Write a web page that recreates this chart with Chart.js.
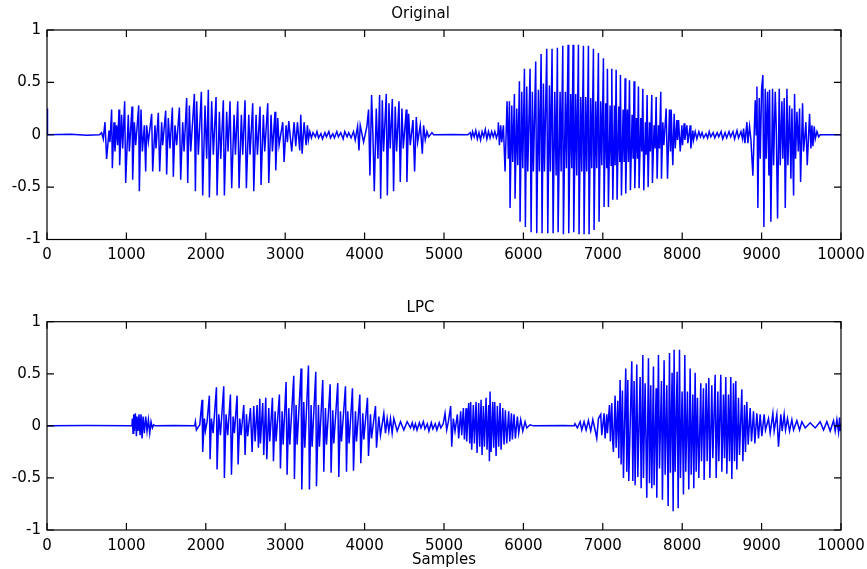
<!DOCTYPE html>
<html>
<head>
<meta charset="utf-8">
<script src="https://cdn.jsdelivr.net/npm/chart.js@4"></script>
<style>
  html, body { margin: 0; padding: 0; background: #fff; }
  #wrap { position: relative; width: 867px; height: 569px; }
  #wrap canvas { position: absolute; left: 0; }
  #origCanvas { top: 0; }
  #lpcCanvas { top: 285px; }
</style>
</head>
<body>
<div id="wrap">
  <canvas id="origCanvas" width="867" height="285"></canvas>
  <canvas id="lpcCanvas" width="867" height="284"></canvas>
</div>
<script>
// axis ticks shared by both panels
const xTickValues = [0, 1000, 2000, 3000, 4000, 5000, 6000, 7000, 8000, 9000, 10000];
const yTickValues = [-1, -0.5, 0, 0.5, 1];

// ---- original speech signal, [sample, amplitude] ----
const origLead = [[0, 0.25], [6, 0], [300, 0.005], [500, -0.005], [660, 0]];
const origSyll1 = [
  [667, 0], [688, 0.02], [709, -0.04], [730, 0.12], [751, -0.23], [781, 0.04], [793, -0.07],
  [814, 0.24], [823, -0.32], [844, 0.12], [856, -0.16], [877, 0.09], [890, -0.1], [907, 0.24],
  [915, -0.29], [940, 0.19], [953, -0.13], [978, 0.32], [991, -0.46], [1024, 0.19], [1037, -0.16],
  [1071, 0.27], [1079, -0.43], [1100, 0.12], [1117, -0.1], [1155, 0.28], [1163, -0.54],
  [1184, 0.24], [1201, -0.16], [1226, 0.09], [1243, -0.35], [1255, 0.09], [1276, -0.07],
  [1318, 0.2], [1331, -0.35], [1360, 0.09], [1373, -0.13], [1402, 0.21], [1419, -0.35],
  [1444, 0.12], [1457, -0.1], [1495, 0.23], [1507, -0.38], [1528, 0.16], [1549, -0.13],
  [1579, 0.26], [1591, -0.4], [1612, 0.09], [1633, -0.1], [1667, 0.26], [1684, -0.43],
  [1709, 0.12], [1726, -0.16], [1759, 0.35], [1772, -0.46], [1793, 0.28], [1810, -0.16],
  [1856, 0.39], [1869, -0.54], [1885, 0.32], [1906, -0.19], [1944, 0.41], [1961, -0.58],
  [1990, 0.28], [2011, -0.23], [2032, 0.43], [2045, -0.6], [2074, 0.32], [2095, -0.19],
  [2129, 0.36], [2142, -0.58], [2171, 0.22], [2188, -0.23], [2221, 0.33], [2234, -0.58],
  [2263, 0.22], [2280, -0.16], [2305, 0.32], [2326, -0.51], [2356, 0.19], [2373, -0.19],
  [2402, 0.32], [2419, -0.51], [2448, 0.19], [2465, -0.19], [2494, 0.33], [2511, -0.51],
  [2541, 0.19], [2557, -0.19], [2591, 0.3], [2604, -0.54], [2633, 0.19], [2650, -0.19],
  [2683, 0.27], [2696, -0.48], [2725, 0.19], [2742, -0.16], [2780, 0.3], [2793, -0.46],
  [2822, 0.19], [2839, -0.16], [2872, 0.22], [2881, -0.34], [2906, 0.16], [2923, -0.1],
  [2969, 0.12], [2986, -0.26], [3011, 0.09], [3028, -0.07], [3045, 0.13], [3082, -0.16],
  [3112, 0.12], [3133, -0.11], [3154, 0.12], [3183, -0.15], [3196, 0.19], [3213, -0.18],
  [3238, 0.12], [3263, -0.1], [3280, 0.09], [3292, -0.05]
];
const origGap1 = [
  [3310, 0.03], [3330, -0.03], [3350, 0.02], [3380, -0.02], [3400, 0.03], [3420, -0.03],
  [3450, 0.01], [3470, -0.04], [3500, 0.02], [3520, -0.02], [3550, 0.03], [3570, -0.03],
  [3600, 0.01], [3620, -0.03], [3650, 0.03], [3670, -0.02], [3700, 0.02], [3730, -0.04],
  [3750, 0.03], [3780, -0.02], [3800, 0.02], [3830, -0.03], [3860, 0.03]
];
const origSyll2 = [
  [3882, -0.05], [3912, 0.08], [3929, -0.15], [3945, 0.09], [3987, -0.07], [4029, 0.08],
  [4050, 0.24], [4067, -0.39], [4088, 0.38], [4105, 0], [4122, -0.54], [4147, 0.25],
  [4168, -0.23], [4189, 0.38], [4202, -0.61], [4223, 0.33], [4239, -0.16], [4273, 0.39],
  [4286, -0.58], [4307, 0.3], [4323, -0.13], [4349, 0.34], [4365, -0.54], [4386, 0.27],
  [4403, -0.16], [4433, 0.32], [4449, -0.45], [4470, 0.25], [4487, -0.13], [4525, 0.24],
  [4533, -0.45], [4554, 0.2], [4575, -0.1], [4609, 0.14], [4630, -0.35], [4651, 0.17],
  [4668, -0.07], [4701, 0.09], [4727, -0.18], [4743, 0.09], [4764, -0.05], [4785, 0.03],
  [4806, -0.02], [4848, 0.02], [4869, 0]
];
const origGap2 = [
  [5100, 0.003], [5300, 0], [5330, 0.02], [5345, -0.03], [5360, 0.03], [5380, -0.02],
  [5400, 0.04], [5420, -0.04], [5440, 0.02], [5460, -0.05], [5480, 0.03], [5500, -0.02],
  [5520, 0.05], [5540, -0.04], [5560, 0.03], [5580, -0.03], [5600, 0.03], [5620, -0.02],
  [5640, 0.03], [5660, -0.03], [5680, 0.02]
];
const origSyll3 = [
  [5685, 0.12], [5698, -0.1], [5714, 0.09], [5727, -0.07], [5748, 0.09], [5769, -0.35],
  [5794, 0.32], [5811, -0.23], [5824, 0.32], [5832, -0.7], [5853, 0.28], [5866, -0.26],
  [5887, 0.39], [5895, -0.61], [5916, 0.25], [5929, -0.29], [5950, 0.51], [5958, -0.83],
  [5979, 0.41], [5992, -0.32], [6013, 0.63], [6025, -0.88], [6042, 0.46], [6055, -0.35],
  [6084, 0.63], [6097, -0.93], [6113, 0.41], [6126, -0.35], [6155, 0.7], [6168, -0.94],
  [6189, 0.43], [6202, -0.35], [6223, 0.77], [6235, -0.94], [6252, 0.49], [6265, -0.35],
  [6294, 0.82], [6307, -0.94], [6328, 0.47], [6340, -0.35], [6361, 0.82], [6374, -0.94],
  [6395, 0.41], [6412, -0.39], [6428, 0.83], [6437, -0.93], [6462, 0.41], [6475, -0.35],
  [6496, 0.85], [6504, -0.95], [6529, 0.41], [6542, -0.32], [6563, 0.86], [6571, -0.94],
  [6596, 0.39], [6609, -0.32], [6626, 0.86], [6634, -0.93], [6659, 0.39], [6672, -0.39],
  [6693, 0.86], [6701, -0.95], [6722, 0.36], [6735, -0.35], [6756, 0.85], [6764, -0.95],
  [6785, 0.36], [6798, -0.35], [6819, 0.85], [6827, -0.95], [6848, 0.35], [6861, -0.32],
  [6882, 0.82], [6890, -0.91], [6911, 0.32], [6924, -0.32], [6945, 0.78], [6953, -0.83],
  [6974, 0.32], [6987, -0.29], [7008, 0.73], [7016, -0.69], [7037, 0.3], [7050, -0.32],
  [7058, 0.63], [7071, -0.69], [7092, 0.28], [7105, -0.29], [7113, 0.63], [7126, -0.62],
  [7147, 0.28], [7155, -0.29], [7168, 0.62], [7180, -0.62], [7201, 0.27], [7214, -0.26],
  [7222, 0.57], [7235, -0.58], [7256, 0.24], [7268, -0.26], [7281, 0.54], [7289, -0.56],
  [7310, 0.24], [7323, -0.26], [7336, 0.52], [7348, -0.53], [7369, 0.19], [7382, -0.23],
  [7394, 0.51], [7403, -0.51], [7424, 0.16], [7436, -0.23], [7449, 0.46], [7457, -0.51],
  [7478, 0.16], [7491, -0.16], [7504, 0.44], [7516, -0.53], [7537, 0.12], [7546, -0.19],
  [7558, 0.38], [7571, -0.5], [7588, 0.12], [7600, -0.16], [7617, 0.38], [7625, -0.46],
  [7646, 0.09], [7659, -0.13], [7672, 0.36], [7684, -0.42], [7701, 0.09], [7714, -0.13],
  [7730, 0.41], [7739, -0.42], [7756, 0.12], [7769, -0.1], [7798, 0.25], [7815, -0.42],
  [7840, 0.24], [7853, -0.16], [7861, 0.24], [7882, -0.29], [7899, 0.2], [7912, -0.13],
  [7933, 0.14], [7941, -0.05], [7954, 0.14], [7975, -0.16], [7996, 0.09], [8004, -0.1],
  [8025, 0.11], [8034, -0.05], [8059, 0.09], [8071, -0.08], [8101, 0.09], [8109, -0.13],
  [8134, 0.04], [8143, -0.05], [8164, 0.03], [8185, -0.04]
];
const origGap3 = [
  [8210, 0.03], [8230, -0.02], [8250, 0.02], [8270, -0.03], [8300, 0.01], [8320, -0.03],
  [8340, 0.03], [8360, -0.02], [8390, 0.02], [8410, -0.03], [8440, 0.02], [8460, -0.02],
  [8490, 0.03], [8510, -0.04], [8540, 0.02], [8560, -0.03], [8590, 0.03], [8610, -0.02],
  [8640, 0.03], [8660, -0.04], [8690, 0.04], [8710, -0.03], [8740, 0.03], [8760, -0.04]
];
const origSyll4 = [
  [8773, 0.06], [8790, -0.08], [8815, 0.12], [8827, -0.08], [8848, 0.08], [8865, -0.04],
  [8890, -0.39], [8920, 0.33], [8932, 0], [8941, 0.46], [8953, -0.7], [8970, 0.35],
  [8983, -0.23], [9000, 0.44], [9016, 0.57], [9029, -0.88], [9046, 0.44], [9058, -0.23],
  [9075, 0.41], [9092, -0.39], [9100, 0.43], [9117, -0.83], [9138, 0.44], [9151, -0.29],
  [9172, 0.41], [9184, 0.09], [9201, -0.8], [9222, 0.44], [9235, -0.29], [9256, 0.32],
  [9268, -0.23], [9285, 0.35], [9298, -0.7], [9319, 0.44], [9331, -0.29], [9352, 0.28],
  [9369, -0.42], [9382, 0.25], [9403, -0.58], [9415, 0.39], [9428, -0.23], [9445, 0.22],
  [9462, -0.16], [9478, 0.25], [9491, -0.45], [9516, 0.3], [9529, -0.16], [9558, 0.12],
  [9575, -0.29], [9604, 0.2], [9621, -0.13], [9634, 0.09], [9646, -0.11], [9663, 0.08],
  [9676, -0.04], [9697, 0.03], [9718, -0.02], [9739, 0]
];
const origTail = [[10000, 0]];

// ---- LPC resynthesis, [sample, amplitude] ----
const lpcLead = [[0, 0], [500, 0.003], [1070, 0]];
const lpcBurst = [
  [1075, 0.07], [1084, -0.07], [1092, 0.11], [1100, -0.05], [1113, 0.12], [1126, -0.1],
  [1134, 0.09], [1147, -0.05], [1159, 0.11], [1172, -0.09], [1184, 0.11], [1197, -0.12],
  [1210, 0.09], [1226, -0.07], [1243, 0.09], [1260, -0.05], [1277, 0.06], [1294, -0.07],
  [1310, 0.04], [1327, -0.02], [1344, 0.01], [1365, 0], [1600, 0.003], [1860, 0]
];
const lpcSyll1 = [
  [1869, 0.04], [1882, -0.04], [1898, -0.02], [1924, 0.01], [1953, 0.25], [1961, -0.25],
  [1982, 0.07], [1995, -0.05], [2016, 0.04], [2045, 0.29], [2054, -0.32], [2071, 0.07],
  [2092, -0.07], [2134, 0.37], [2142, -0.42], [2163, 0.11], [2184, -0.09], [2226, 0.38],
  [2234, -0.5], [2255, 0.11], [2276, -0.09], [2310, 0.3], [2323, -0.47], [2344, 0.09],
  [2360, -0.07], [2394, 0.29], [2407, -0.37], [2428, 0.07], [2444, -0.09], [2478, 0.2],
  [2495, -0.28], [2512, 0.11], [2528, -0.1], [2562, 0.17], [2583, -0.25], [2604, 0.19],
  [2621, -0.15], [2646, 0.2], [2663, -0.21], [2680, 0.26], [2688, -0.17], [2717, 0.22],
  [2730, -0.28], [2755, 0.27], [2768, -0.32], [2793, 0.17], [2806, -0.15], [2839, 0.27],
  [2852, -0.34], [2873, 0.14], [2885, -0.15], [2927, 0.3], [2940, -0.41], [2961, 0.14],
  [2974, -0.18], [3011, 0.42], [3024, -0.47], [3045, 0.17], [3058, -0.18], [3108, 0.48],
  [3116, -0.51], [3137, 0.2], [3150, -0.18], [3200, 0.55], [3209, -0.61], [3234, 0.23],
  [3247, -0.21], [3293, 0.58], [3305, -0.61], [3326, 0.2], [3339, -0.2], [3385, 0.52],
  [3394, -0.58], [3419, 0.2], [3431, -0.2], [3473, 0.44], [3486, -0.44], [3507, 0.17],
  [3520, -0.18], [3566, 0.4], [3578, -0.45], [3599, 0.15], [3612, -0.17], [3662, 0.41],
  [3675, -0.49], [3696, 0.14], [3709, -0.15], [3759, 0.38], [3772, -0.44], [3788, 0.14],
  [3805, -0.17], [3847, 0.36], [3860, -0.43], [3885, 0.14], [3898, -0.15], [3940, 0.3],
  [3952, -0.36], [3977, 0.12], [3990, -0.13], [4036, 0.27], [4049, -0.29], [4074, 0.11],
  [4087, -0.12], [4137, 0.19], [4150, -0.21], [4179, 0.09], [4200, -0.09], [4242, 0.12],
  [4263, -0.07], [4284, 0.07], [4305, -0.05], [4326, 0.07], [4347, -0.07], [4368, 0.07],
  [4410, -0.05], [4452, 0.04], [4494, -0.04], [4536, 0.04], [4578, -0.02]
];
const lpcGap1 = [
  [4600, 0.03], [4620, -0.03], [4640, 0.02], [4660, -0.04], [4690, 0.03], [4710, -0.02],
  [4740, 0.04], [4760, -0.03], [4790, 0.02], [4810, -0.05], [4840, 0.03], [4860, -0.03],
  [4890, 0.02], [4910, -0.04], [4940, 0.03], [4960, -0.02], [4990, 0.02]
];
const lpcSyll2 = [
  [5013, 0.12], [5034, -0.04], [5055, 0.04], [5084, 0.19], [5097, -0.2], [5118, 0.07],
  [5139, -0.05], [5168, 0.11], [5185, -0.12], [5210, 0.14], [5223, -0.09], [5244, 0.17],
  [5257, -0.13], [5278, 0.17], [5286, -0.15], [5311, 0.22], [5324, -0.17], [5336, 0.23],
  [5349, -0.23], [5370, 0.2], [5383, -0.17], [5404, 0.23], [5416, -0.26], [5437, 0.22],
  [5450, -0.2], [5467, 0.25], [5479, -0.28], [5496, 0.19], [5509, -0.2], [5530, 0.27],
  [5542, -0.23], [5563, 0.2], [5572, -0.34], [5580, 0.33], [5593, -0.25], [5614, 0.23],
  [5626, -0.21], [5639, 0.23], [5656, -0.29], [5672, 0.19], [5689, -0.2], [5706, 0.22],
  [5719, -0.23], [5740, 0.17], [5756, -0.18], [5773, 0.15], [5790, -0.17], [5815, 0.14],
  [5828, -0.15], [5849, 0.12], [5861, -0.13], [5882, 0.11], [5899, -0.12], [5924, 0.09],
  [5941, -0.07], [5966, 0.06], [5992, -0.05], [6021, 0.04], [6042, -0.02], [6084, 0.01],
  [6126, 0]
];
const lpcGap2 = [
  [6500, 0.003], [6640, 0], [6650, 0.02], [6680, -0.02], [6714, 0.04], [6735, -0.04],
  [6764, 0.04], [6790, -0.04], [6819, 0.05], [6848, -0.05], [6874, 0.06], [6903, -0.04],
  [6924, -0.12], [6945, 0.07]
];
const lpcSyll3 = [
  [6974, 0.11], [6987, -0.09], [7016, 0.12], [7029, -0.12], [7050, 0.11], [7058, -0.07],
  [7084, 0.2], [7096, -0.15], [7113, 0.22], [7126, -0.17], [7134, -0.25], [7155, 0.29],
  [7168, -0.21], [7189, 0.24], [7201, -0.31], [7218, 0.44], [7231, -0.37], [7247, 0.34],
  [7260, -0.5], [7289, 0.55], [7302, -0.44], [7315, 0.44], [7327, -0.53], [7365, 0.62],
  [7378, -0.53], [7394, 0.43], [7407, -0.57], [7428, 0.59], [7441, -0.49], [7470, 0.47],
  [7483, -0.6], [7504, 0.68], [7512, -0.5], [7533, 0.41], [7554, -0.69], [7575, 0.65],
  [7588, -0.55], [7604, 0.39], [7617, -0.6], [7638, 0.57], [7646, -0.57], [7672, 0.36],
  [7680, -0.69], [7701, 0.68], [7714, -0.41], [7739, 0.43], [7751, -0.71], [7772, 0.63],
  [7785, -0.47], [7806, 0.39], [7823, -0.77], [7840, 0.7], [7852, -0.45], [7873, 0.51],
  [7886, -0.82], [7898, 0.73], [7911, -0.44], [7936, 0.52], [7949, -0.79], [7966, 0.73],
  [7978, -0.5], [7999, 0.33], [8016, -0.66], [8033, 0.68], [8045, -0.44], [8066, 0.33],
  [8083, -0.61], [8100, 0.55], [8113, -0.47], [8134, 0.3], [8146, -0.6], [8163, 0.51],
  [8176, -0.44], [8192, 0.27], [8209, -0.5], [8234, 0.41], [8243, -0.34], [8268, 0.36],
  [8276, -0.52], [8302, 0.41], [8314, -0.34], [8335, 0.46], [8348, -0.5], [8373, 0.39],
  [8386, -0.31], [8415, 0.49], [8428, -0.5], [8449, 0.33], [8461, -0.34], [8486, 0.49],
  [8499, -0.44], [8520, 0.3], [8533, -0.31], [8549, 0.47], [8562, -0.46], [8583, 0.3],
  [8596, -0.34], [8612, 0.47], [8625, -0.51], [8646, 0.41], [8659, -0.34], [8675, 0.43],
  [8688, -0.42], [8709, 0.27], [8722, -0.28], [8751, 0.35], [8764, -0.34], [8785, 0.2],
  [8797, -0.25], [8814, 0.23], [8831, -0.18], [8856, 0.17], [8873, -0.15], [8898, 0.14],
  [8915, -0.17], [8940, 0.12], [8961, -0.12], [8982, 0.11], [9003, -0.1], [9032, 0.11],
  [9049, -0.04], [9087, 0.07], [9108, -0.07], [9142, 0.12], [9158, -0.05], [9192, 0.11],
  [9213, -0.2], [9242, 0.11], [9259, -0.05], [9284, 0.11], [9301, -0.04], [9326, 0.07],
  [9352, -0.05], [9381, 0.06], [9402, -0.04], [9444, 0.05], [9478, -0.04], [9507, 0.04],
  [9549, -0.02], [9612, 0.03], [9675, -0.02], [9738, 0.04], [9780, -0.04], [9822, 0.04],
  [9864, -0.05], [9906, 0.05], [9927, -0.05], [9948, 0.06], [9969, -0.06], [9982, 0.08],
  [9990, -0.05], [10000, 0.02]
];

const origSegments = [origLead, origSyll1, origGap1, origSyll2, origGap2, origSyll3, origGap3, origSyll4, origTail];
const lpcSegments = [lpcLead, lpcBurst, lpcSyll1, lpcGap1, lpcSyll2, lpcGap2, lpcSyll3];

const toPoints = segs => segs.flat().map(([s, v]) => ({ x: s, y: v }));

const FONT = 'DejaVu Sans';

// MATLAB-style box with inward tick marks on all four sides
const axesBox = {
  id: 'axesBox',
  afterDatasetsDraw(chart) {
    const { ctx, chartArea: a, scales } = chart;
    const len = 7;
    ctx.save();
    ctx.strokeStyle = '#000';
    ctx.lineWidth = 1.2;
    ctx.strokeRect(a.left, a.top, a.right - a.left, a.bottom - a.top);
    ctx.beginPath();
    xTickValues.forEach(v => {
      const px = scales.x.getPixelForValue(v);
      ctx.moveTo(px, a.bottom); ctx.lineTo(px, a.bottom - len);
      ctx.moveTo(px, a.top); ctx.lineTo(px, a.top + len);
    });
    yTickValues.forEach(v => {
      const py = scales.y.getPixelForValue(v);
      ctx.moveTo(a.left, py); ctx.lineTo(a.left + len, py);
      ctx.moveTo(a.right, py); ctx.lineTo(a.right - len, py);
    });
    ctx.stroke();
    ctx.restore();
  }
};

function makeChart(id, points, titleText, opts) {
  return new Chart(document.getElementById(id), {
    type: 'line',
    data: {
      datasets: [{
        data: points,
        borderColor: '#0000ff',
        borderWidth: 1.5,
        pointRadius: 0,
        fill: false,
        tension: 0
      }]
    },
    options: {
      responsive: false,
      animation: false,
      parsing: false,
      normalized: true,
      layout: { padding: { left: 0, right: 26, top: 0, bottom: 0 } },
      plugins: {
        legend: { display: false },
        tooltip: { enabled: false },
        title: {
          display: true,
          text: titleText,
          color: '#000',
          font: { family: FONT, size: 15, weight: 'normal', lineHeight: 1.2 },
          padding: opts.titlePadding
        }
      },
      scales: {
        x: {
          type: 'linear',
          min: 0,
          max: 10000,
          grid: { display: false, drawTicks: false },
          border: { display: false },
          afterBuildTicks: s => { s.ticks = xTickValues.map(v => ({ value: v })); },
          afterFit: s => {
            s.height = opts.xAxisHeight;
            // end labels may overhang the plot; keep the plot width fixed
            s.paddingLeft = 0;
            s.paddingRight = 0;
          },
          ticks: {
            color: '#000',
            padding: 7,
            maxRotation: 0,
            autoSkip: false,
            font: { family: FONT, size: 15 },
            callback: v => String(v)
          },
          title: {
            display: !!opts.xTitle,
            text: opts.xTitle || '',
            color: '#000',
            font: { family: FONT, size: 15 },
            padding: { top: 0, bottom: 0 }
          }
        },
        y: {
          type: 'linear',
          min: -1,
          max: 1,
          grid: { display: false, drawTicks: false },
          border: { display: false },
          afterBuildTicks: s => { s.ticks = yTickValues.map(v => ({ value: v })); },
          afterFit: s => { s.width = 47; },
          ticks: {
            color: '#000',
            padding: 6,
            font: { family: FONT, size: 15 },
            callback: v => String(v)
          }
        }
      }
    },
    plugins: [axesBox]
  });
}

makeChart('origCanvas', toPoints(origSegments), 'Original', {
  titlePadding: { top: 5, bottom: 7 },
  xAxisHeight: 45.5
});

makeChart('lpcCanvas', toPoints(lpcSegments), 'LPC', {
  titlePadding: { top: 14, bottom: 4.7 },
  xAxisHeight: 39,
  xTitle: 'Samples'
});
</script>
</body>
</html>
